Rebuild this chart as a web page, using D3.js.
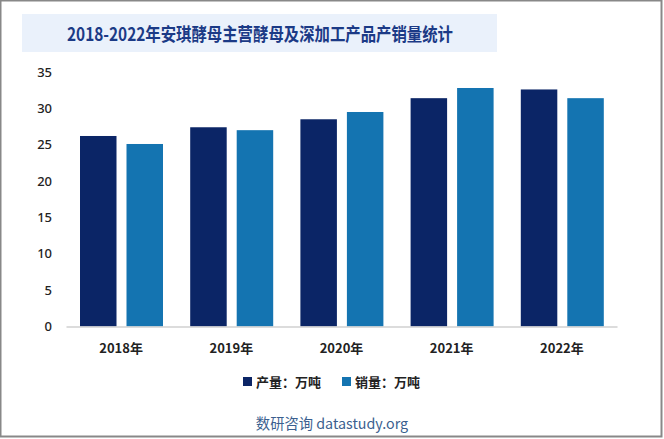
<!DOCTYPE html>
<html><head><meta charset="utf-8">
<script src="https://cdn.jsdelivr.net/npm/d3@7"></script>
<style>html,body{margin:0;padding:0;background:#fff;}</style>
</head><body>
<script>
const categories = ["2018年","2019年","2020年","2021年","2022年"];
const production = [26.2, 27.4, 28.5, 31.4, 32.6];
const sales = [25.1, 27.0, 29.5, 32.8, 31.4];
const seriesNames = ["产量：万吨","销量：万吨"];
const seriesColors = ["#0b2566","#1474b1"];
const yTicks = [0,5,10,15,20,25,30,35];
const title = "2018-2022年安琪酵母主营酵母及深加工产品产销量统计";
const footer = "数研咨询 datastudy.org";

const W=664,H=439;
const svg=d3.select("body").append("svg").attr("width",W).attr("height",H);
svg.append("rect").attr("x",0.5).attr("y",0.5).attr("width",W-3).attr("height",H-3)
  .attr("fill","#fff").attr("stroke","#888").attr("stroke-width",2);

// title
svg.append("rect").attr("x",22).attr("y",14).attr("width",475).attr("height",38).attr("fill","#eaf1fb");
svg.append("text").attr("x",67).attr("y",40.5)
  .attr("font-family","'Noto Sans CJK SC',sans-serif").attr("font-weight","bold")
  .attr("font-size",18.5).attr("fill","#1b3a86")
  .attr("textLength",386).attr("lengthAdjust","spacingAndGlyphs").text(title);

const pL=66,pR=617,pT=72,pB=326.5;
const x=d3.scaleBand().domain(categories).range([pL,pR]).paddingInner(0).paddingOuter(0);
const y=d3.scaleLinear().domain([0,35]).range([pB,pT]);
const sub=d3.scaleBand().domain([0,1]).range([14,97]).paddingInner(0.215);

const data=[production,sales];
data.forEach((arr,si)=>{
  svg.append("g").selectAll("rect").data(arr).join("rect")
    .attr("x",(d,i)=>x(categories[i])+sub(si))
    .attr("width",sub.bandwidth())
    .attr("y",d=>y(d)).attr("height",d=>y(0)-y(d))
    .attr("fill",seriesColors[si]);
});

// y axis
const ya=svg.append("g").attr("transform",`translate(${pL},0)`)
  .call(d3.axisLeft(y).tickValues(yTicks).tickSize(0).tickPadding(14));
ya.select(".domain").remove();
ya.selectAll("text").attr("font-family","'Noto Sans',sans-serif").attr("font-size",13)
  .attr("font-weight","500").attr("fill","#222");

// x axis
const xa=svg.append("g").attr("transform",`translate(0,${pB})`)
  .call(d3.axisBottom(x).tickSize(0).tickPadding(17));
xa.select(".domain").attr("stroke","#d0d0d0").attr("stroke-width",1.5);
xa.selectAll("text").attr("font-family","'Noto Sans CJK SC',sans-serif").attr("font-size",13)
  .attr("font-weight","bold").attr("fill","#222");

// legend
const lg=svg.append("g");
const lx=[243,342];
seriesNames.forEach((n,i)=>{
  lg.append("rect").attr("x",lx[i]).attr("y",377).attr("width",9).attr("height",9).attr("fill",seriesColors[i]);
  lg.append("text").attr("x",lx[i]+13).attr("y",387).attr("font-family","'Noto Sans CJK SC',sans-serif")
    .attr("font-size",13).attr("font-weight","bold").attr("fill","#222").text(n);
});

svg.append("text").attr("x",332).attr("y",429).attr("text-anchor","middle")
  .attr("font-family","'Noto Sans CJK SC',sans-serif").attr("font-size",14.3).attr("fill","#3b5f8f").text(footer);
</script>
</body></html>
